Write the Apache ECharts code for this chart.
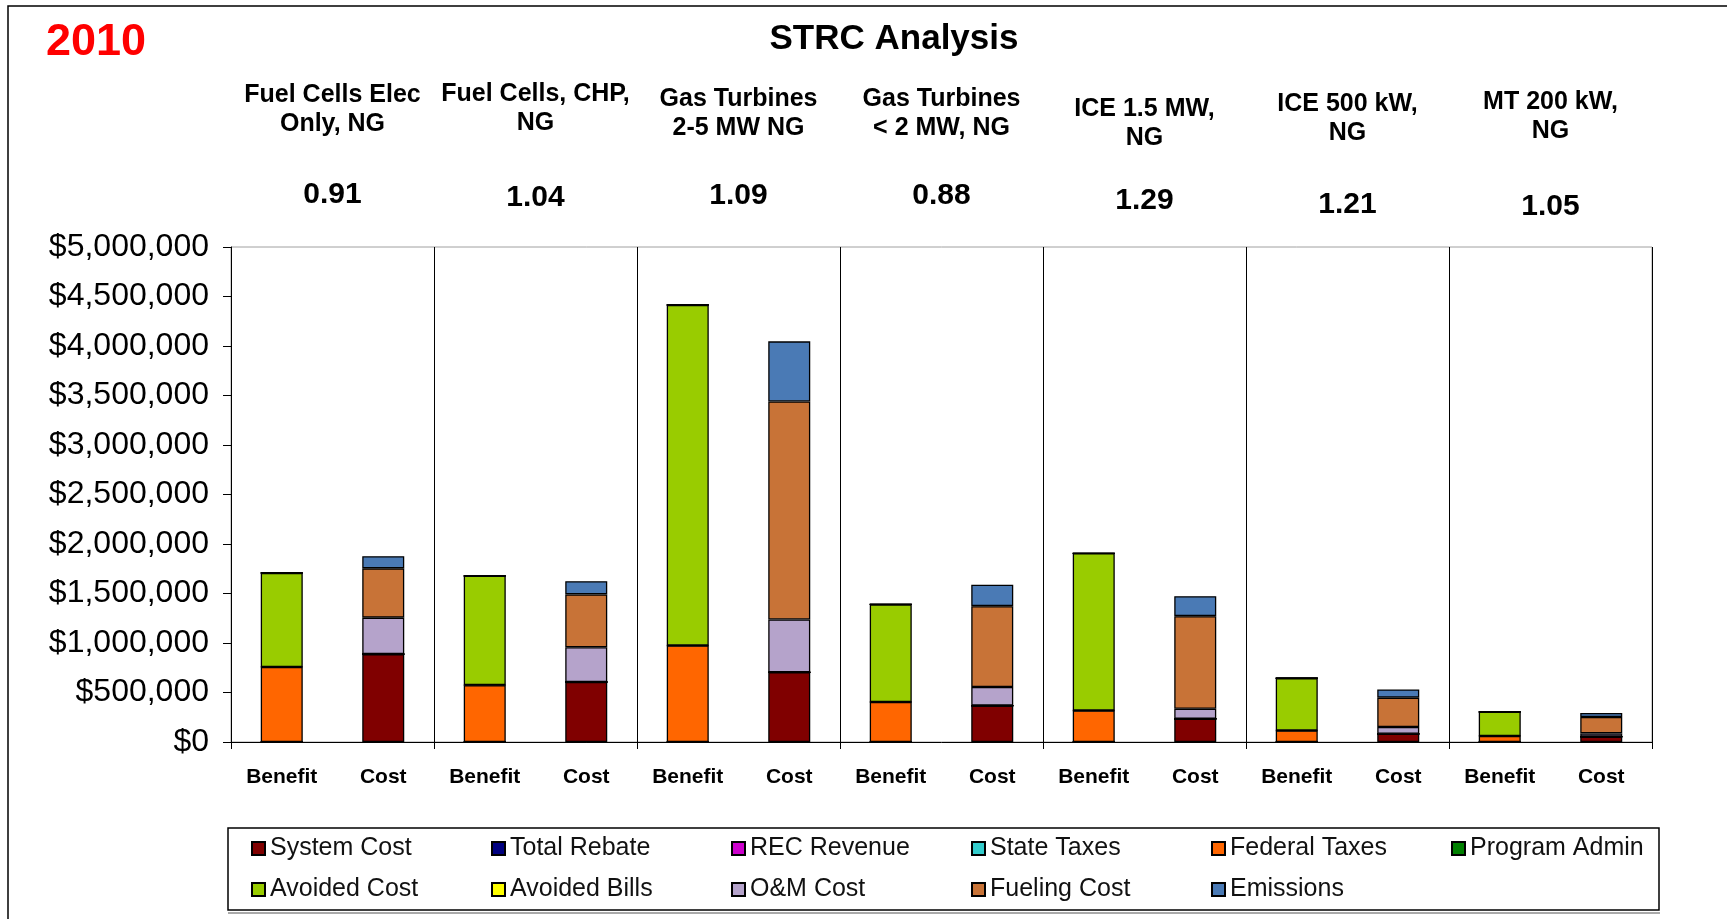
<!DOCTYPE html>
<html>
<head>
<meta charset="utf-8">
<title>STRC Analysis</title>
<script src="https://cdn.jsdelivr.net/npm/echarts@6/dist/echarts.min.js"></script>
<style>
  html, body { margin: 0; padding: 0; background: #fff; }
  #chart { width: 1727px; height: 919px; }
</style>
</head>
<body>
<div id="chart"></div>
<script>
// groups of technologies and their benefit/cost ratio
const groups = ['Fuel Cells Elec\nOnly, NG', 'Fuel Cells, CHP,\nNG', 'Gas Turbines\n2-5 MW NG', 'Gas Turbines\n< 2 MW, NG', 'ICE 1.5 MW,\nNG', 'ICE 500 kW,\nNG', 'MT 200 kW,\nNG'];
const ratios = ['0.91', '1.04', '1.09', '0.88', '1.29', '1.21', '1.05'];
const bars = ['Benefit', 'Cost'];

// values per bar: Benefit, Cost for each group
const systemCost   = [0, 888000, 0, 606000, 0, 704000, 0, 368000, 0, 235000, 0, 83000, 0, 54000];
const totalRebate  = [0, 0, 0, 0, 0, 0, 0, 0, 0, 0, 0, 0, 0, 0];
const recRevenue   = [0, 0, 0, 0, 0, 0, 0, 0, 0, 0, 0, 0, 0, 0];
const stateTaxes   = [0, 0, 0, 0, 0, 0, 0, 0, 0, 0, 0, 0, 0, 0];
const federalTaxes = [758000, 0, 574000, 0, 975000, 0, 404000, 0, 318000, 0, 116000, 0, 61000, 0];
const programAdmin = [0, 0, 0, 0, 0, 0, 0, 0, 0, 0, 0, 0, 0, 0];
const avoidedCost  = [950000, 0, 1105000, 0, 3440000, 0, 986000, 0, 1588000, 0, 528000, 0, 244000, 0];
const avoidedBills = [0, 0, 0, 0, 0, 0, 0, 0, 0, 0, 0, 0, 0, 0];
const omCost       = [0, 368000, 0, 351000, 0, 534000, 0, 188000, 0, 101000, 0, 69000, 0, 33000];
const fuelingCost  = [0, 498000, 0, 534000, 0, 2202000, 0, 816000, 0, 935000, 0, 296000, 0, 166000];
const emissions    = [0, 123000, 0, 134000, 0, 607000, 0, 216000, 0, 202000, 0, 83000, 0, 41000];

const yTicks = { min: 0, max: 5000000, interval: 500000 };

// small vertical nudges of the group headers (px), the source chart isn't perfectly aligned
const nameDrop  = [1, 0, 5, 5, 15, 10, 8];
const ratioDrop = [0, 3, 1, 1, 6, 10, 12];

const categories = [];
groups.forEach(() => bars.forEach(b => categories.push(b)));

const seriesDefs = [
  ['System Cost', systemCost, '#800000'],
  ['Total Rebate', totalRebate, '#000080'],
  ['REC Revenue', recRevenue, '#CC00CC'],
  ['State Taxes', stateTaxes, '#33CCCC'],
  ['Federal Taxes', federalTaxes, '#FF6600'],
  ['Program Admin', programAdmin, '#008000'],
  ['Avoided Cost', avoidedCost, '#99CC00'],
  ['Avoided Bills', avoidedBills, '#FFFF00'],
  ['O&M Cost', omCost, '#B5A3CB'],
  ['Fueling Cost', fuelingCost, '#C87337'],
  ['Emissions', emissions, '#4A7AB5']
];

const FONT = 'Liberation Sans, Arial, sans-serif';

// rich styles for the header labels
const headRich = {
  n: { fontSize: 25, fontWeight: 'bold', lineHeight: 29, color: '#000', fontFamily: FONT },
  r: { fontSize: 30, fontWeight: 'bold', lineHeight: 34, color: '#000', fontFamily: FONT }
};
groups.forEach((g, i) => {
  headRich['g' + i] = { height: 40 - (nameDrop[i] - ratioDrop[i]), lineHeight: 40 - (nameDrop[i] - ratioDrop[i]) };
  headRich['b' + i] = { height: 14 - ratioDrop[i], lineHeight: 14 - ratioDrop[i] };
});

const chart = echarts.init(document.getElementById('chart'));

chart.setOption({
  animation: false,
  backgroundColor: '#fff',
  textStyle: { fontFamily: FONT, color: '#000' },
  title: [
    {
      text: 'STRC Analysis', left: 894, top: 22, textAlign: 'center', padding: 0,
      textStyle: { fontSize: 35, fontWeight: 'bold', color: '#000', fontFamily: FONT }
    },
    {
      text: '2010', left: 46, top: 20, padding: 0,
      textStyle: { fontSize: 45, fontWeight: 'bold', color: '#FF0000', fontFamily: FONT }
    }
  ],
  legend: {
    left: 251, top: 828, width: 1440, padding: 0,
    itemWidth: 13, itemHeight: 13, itemGap: 0,
    icon: 'rect',
    textStyle: { fontSize: 25, width: 221, lineHeight: 41, color: '#111', fontFamily: FONT },
    data: seriesDefs.map(d => d[0])
  },
  graphic: [
    { type: 'rect', shape: { x: 8, y: 6, width: 1800, height: 1000 }, style: { fill: 'none', stroke: '#000', lineWidth: 1.5 }, silent: true },
    { type: 'rect', shape: { x: 228, y: 828, width: 1431, height: 82 }, style: { fill: 'none', stroke: '#000', lineWidth: 1.5 }, silent: true },
    { type: 'line', shape: { x1: 228, y1: 913, x2: 1660, y2: 913 }, style: { stroke: '#555', lineWidth: 1 }, silent: true }
  ],
  grid: {
    left: 231, right: 75, top: 247, bottom: 177,
    show: true, borderColor: '#a0a0a0', borderWidth: 1
  },
  xAxis: [
    {
      type: 'category', data: categories, position: 'bottom',
      axisLine: { lineStyle: { color: '#000', width: 1 } },
      axisTick: { show: false },
      axisLabel: { interval: 0, margin: 25, fontSize: 21, fontWeight: 'bold', color: '#000' }
    },
    {
      type: 'category', data: groups, position: 'bottom', offset: 0,
      axisLine: { show: false },
      axisTick: { show: true, length: 7, lineStyle: { color: '#000' } },
      axisLabel: { show: false },
      splitLine: { show: true, lineStyle: { color: '#000', width: 1 } }
    },
    {
      type: 'category', data: groups, position: 'top', offset: 0,
      axisLine: { show: false },
      axisTick: { show: false },
      axisLabel: {
        interval: 0, margin: 21,
        formatter: (v, i) => v.split('\n').map(s => '{n|' + s + '}').join('\n') +
          '\n{g' + i + '|}\n{r|' + ratios[i] + '}\n{b' + i + '|}',
        rich: headRich
      }
    }
  ],
  yAxis: {
    type: 'value', min: yTicks.min, max: yTicks.max, interval: yTicks.interval,
    axisLine: { show: true, lineStyle: { color: '#000' } },
    axisTick: { show: true, length: 8, inside: false, lineStyle: { color: '#000' } },
    splitLine: { show: false },
    axisLabel: {
      margin: 22, fontSize: 32, color: '#000',
      formatter: v => '$' + v.toLocaleString('en-US')
    }
  },
  series: seriesDefs.map(([name, values, color]) => ({
    name: name,
    type: 'bar',
    stack: 'total',
    barWidth: 42,
    data: values,
    itemStyle: { color: color, borderColor: '#000', borderWidth: 1.3 }
  }))
});
</script>
</body>
</html>
